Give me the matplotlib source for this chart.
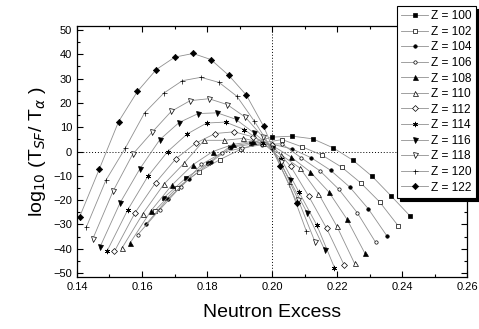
import matplotlib
matplotlib.use("Agg")
import matplotlib.pyplot as plt
from matplotlib.ticker import MultipleLocator

plt.rcParams['font.family'] = ['Liberation Sans', 'DejaVu Sans']

# neutron excess (N-Z)/(N+Z) and log10(T_SF/T_alpha) for each Z
x100 = [0.1667, 0.1736, 0.1803, 0.1870, 0.1935, 0.2000, 0.2063, 0.2126, 0.2188, 0.2248, 0.2308, 0.2366, 0.2424]
y100 = [-19.0, -10.8, -4.9, 2.0, 3.6, 5.9, 6.3, 5.2, 1.5, -3.5, -10.2, -18.2, -26.4]

x102 = [0.1639, 0.1707, 0.1774, 0.1840, 0.1905, 0.1969, 0.2031, 0.2093, 0.2154, 0.2214, 0.2273, 0.2331, 0.2388]
y102 = [-24.4, -15.0, -8.4, -3.3, 1.0, 3.5, 4.9, 1.9, -1.5, -6.4, -12.9, -20.7, -30.5]

x104 = [0.1613, 0.1680, 0.1746, 0.1811, 0.1875, 0.1938, 0.2000, 0.2061, 0.2121, 0.2180, 0.2239, 0.2296, 0.2353]
y104 = [-29.8, -19.4, -11.2, -4.5, 1.8, 3.0, 3.0, 1.1, -2.6, -7.7, -14.6, -23.5, -34.6]

x106 = [0.1587, 0.1654, 0.1719, 0.1783, 0.1846, 0.1908, 0.1970, 0.2030, 0.2090, 0.2148, 0.2206, 0.2263, 0.2319]
y106 = [-34.2, -24.0, -14.5, -5.3, -0.5, 1.5, 2.8, 3.2, -2.6, -8.0, -15.6, -25.3, -37.4]

x108 = [0.1563, 0.1628, 0.1692, 0.1756, 0.1818, 0.1880, 0.1940, 0.2000, 0.2059, 0.2117, 0.2174, 0.2230, 0.2286]
y108 = [-37.7, -24.3, -13.8, -5.5, 0.0, 2.9, 4.2, 2.5, -2.3, -8.3, -16.5, -27.7, -41.9]

x110 = [0.1538, 0.1603, 0.1667, 0.1729, 0.1791, 0.1852, 0.1912, 0.1971, 0.2029, 0.2086, 0.2143, 0.2199, 0.2254]
y110 = [-39.8, -25.5, -13.5, -4.9, 4.6, 4.6, 5.4, 3.5, -1.5, -6.8, -17.3, -30.6, -46.0]

x112 = [0.1515, 0.1579, 0.1642, 0.1704, 0.1765, 0.1825, 0.1884, 0.1942, 0.2000, 0.2057, 0.2113, 0.2168, 0.2222]
y112 = [-41.1, -25.1, -12.8, -3.0, 3.4, 7.4, 8.1, 6.0, 2.5, -6.0, -18.4, -31.6, -46.7]

x114 = [0.1493, 0.1556, 0.1618, 0.1679, 0.1739, 0.1799, 0.1857, 0.1915, 0.1972, 0.2028, 0.2083, 0.2138, 0.2192]
y114 = [-40.8, -24.0, -10.2, 0.0, 7.2, 11.7, 12.1, 9.0, 3.5, -3.0, -16.7, -30.3, -47.7]

x116 = [0.1471, 0.1533, 0.1594, 0.1655, 0.1714, 0.1773, 0.1831, 0.1888, 0.1944, 0.2000, 0.2055, 0.2109, 0.2162]
y116 = [-39.2, -21.0, -7.0, 4.9, 11.9, 15.6, 15.9, 13.3, 7.7, 1.5, -11.8, -25.4, -40.4]

x118 = [0.1449, 0.1511, 0.1571, 0.1631, 0.1690, 0.1748, 0.1806, 0.1862, 0.1918, 0.1973, 0.2027, 0.2081, 0.2133]
y118 = [-35.8, -16.3, -1.2, 7.9, 16.5, 20.9, 21.7, 19.3, 14.1, 5.8, -4.5, -20.0, -37.4]

x120 = [0.1429, 0.1489, 0.1549, 0.1608, 0.1667, 0.1724, 0.1781, 0.1837, 0.1892, 0.1946, 0.2000, 0.2053, 0.2105]
y120 = [-31.0, -11.8, 1.5, 15.9, 24.0, 29.1, 30.5, 28.4, 22.7, 12.4, 1.0, -13.5, -32.5]

x122 = [0.1408, 0.1469, 0.1528, 0.1586, 0.1644, 0.1701, 0.1757, 0.1812, 0.1867, 0.1921, 0.1974, 0.2026, 0.2078]
y122 = [-26.9, -7.1, 12.3, 24.7, 33.7, 38.8, 40.3, 37.8, 31.3, 23.2, 10.4, -6.0, -21.3]

labels = ["Z = 100", "Z = 102", "Z = 104", "Z = 106", "Z = 108", "Z = 110",
          "Z = 112", "Z = 114", "Z = 116", "Z = 118", "Z = 120", "Z = 122"]
xs = [x100, x102, x104, x106, x108, x110, x112, x114, x116, x118, x120, x122]
ys = [y100, y102, y104, y106, y108, y110, y112, y114, y116, y118, y120, y122]

# marker, size, filled
styles = [("s", 2.6, True), ("s", 2.3, False), ("o", 2.5, True), ("o", 2.4, False),
          ("^", 3.6, True), ("^", 3.6, False), ("D", 3.0, False), ((6, 2, 0), 3.8, True),
          ("v", 3.6, True), ("v", 3.6, False), ("+", 3.6, True), ("D", 3.2, True)]

fig = plt.figure(figsize=(4.79, 3.29), dpi=100)
ax = fig.add_axes([77/479, 1-277/329, 390/479, 251/329])

for x, y, lab, (m, s, filled) in zip(xs, ys, labels, styles):
    ax.plot(x, y, color="#909090", lw=0.6, marker=m, markersize=s,
            markerfacecolor="black" if filled else "white",
            markeredgecolor="black", markeredgewidth=0.5, label=lab)

ax.axhline(0, color="black", lw=0.7, ls=(0, (1, 2)), zorder=0)
ax.axvline(0.20, color="black", lw=0.7, ls=(0, (1, 2)), zorder=0)

ax.set_xlim(0.14, 0.26)
ax.set_ylim(-51.6, 51.6)
ax.xaxis.set_minor_locator(MultipleLocator(0.01))
ax.yaxis.set_major_locator(MultipleLocator(10))
ax.yaxis.set_minor_locator(MultipleLocator(5))
ax.set_xticks([0.14, 0.16, 0.18, 0.20, 0.22, 0.24, 0.26])
ax.set_xticklabels(["0.14", "0.16", "0.18", "0.20", "0.22", "0.24", "0.26"])
ax.tick_params(which="both", direction="in", top=True, right=True, labelsize=8, width=0.8)
ax.tick_params(which="major", length=4)
ax.tick_params(which="minor", length=2.5)
for sp in ax.spines.values():
    sp.set_linewidth(0.9)

ax.set_xlabel("Neutron Excess", fontsize=14, labelpad=9)
ax.set_ylabel(r"log$_{10}$ (T$_{SF}$/ T$_{\alpha}$ )", fontsize=14, labelpad=4)

leg = fig.legend(loc="upper right", bbox_to_anchor=(476/479, 1-6/329), fontsize=8.6,
                 frameon=True, fancybox=False, edgecolor="black", framealpha=1,
                 handlelength=2.2, handletextpad=0.3, labelspacing=0.3,
                 borderpad=0.35, borderaxespad=0, shadow={"color": "black", "alpha": 1})
leg.get_frame().set_linewidth(0.8)

fig.savefig("out.png", dpi=100)
